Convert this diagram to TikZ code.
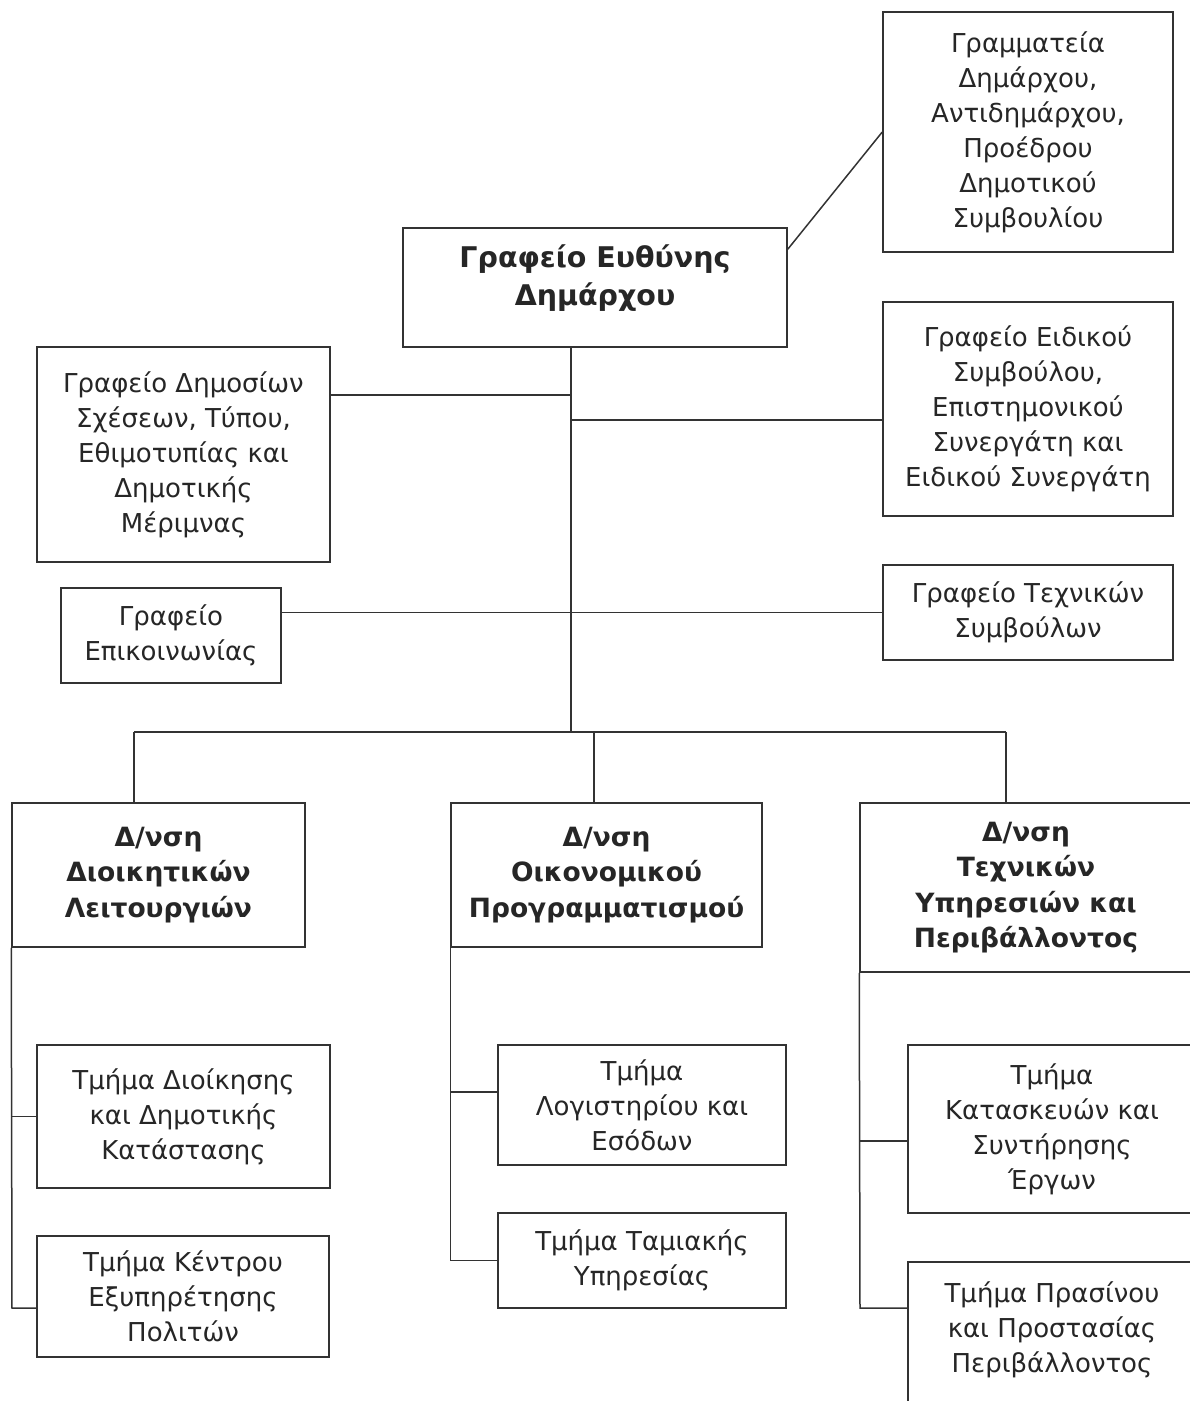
\documentclass[tikz,border=0pt]{standalone}
\usepackage{fontspec}
\setmainfont{DejaVu Sans}
\usepackage{tikz}
\tikzset{
  %% Office / section box
  obox/.style={
    rectangle, draw=black!80, fill=white,
    align=center, text=black!85,
    font=\fontsize{26}{35}\selectfont,
    inner sep=0pt, line width=1.5pt
  },
  %% Directorate box (bold)
  dbox/.style={
    obox, font=\fontsize{26.5}{35.5}\selectfont\bfseries
  },
  %% Connector
  conn/.style={draw=black!80, line width=1.5pt},
}

\begin{document}
\begin{tikzpicture}[x=1pt, y=-1pt]

  \useasboundingbox (0,0) rectangle (1190,1401);
  \clip (0,0) rectangle (1190,1401);

  %% top level
  \node[obox, minimum width=290, minimum height=240] (secr) at (1028,132)
       {Γραμματεία\\Δημάρχου,\\Αντιδημάρχου,\\Προέδρου\\Δημοτικού\\Συμβουλίου};
  \node[dbox, minimum width=384, minimum height=119,
        font=\fontsize{28.5}{38}\selectfont\bfseries] (mayor) at (595,287.5)
       {Γραφείο Ευθύνης\\Δημάρχου\\[-14pt]\mbox{}};

  %% staff offices
  \node[obox, minimum width=293, minimum height=215] (press) at (183.5,454.5)
       {Γραφείο Δημοσίων\\Σχέσεων, Τύπου,\\Εθιμοτυπίας και\\Δημοτικής\\Μέριμνας};
  \node[obox, minimum width=290, minimum height=214] (advis) at (1028,409)
       {Γραφείο Ειδικού\\Συμβούλου,\\Επιστημονικού\\Συνεργάτη και\\Ειδικού Συνεργάτη};
  \node[obox, minimum width=220, minimum height=95] (commu) at (171,635.5)
       {Γραφείο\\Επικοινωνίας};
  \node[obox, minimum width=290, minimum height=95] (techc) at (1028,612.5)
       {Γραφείο Τεχνικών\\Συμβούλων};

  %% directorates
  \node[dbox, minimum width=293, minimum height=144] (dadmin) at (158.5,875)
       {Δ/νση\\Διοικητικών\\Λειτουργιών};
  \node[dbox, minimum width=311, minimum height=144] (dfinan) at (606.5,875)
       {Δ/νση\\Οικονομικού\\Προγραμματισμού};
  \node[dbox, minimum width=332, minimum height=169] (dtechn) at (1026,887.5)
       {Δ/νση\\Τεχνικών\\Υπηρεσιών και\\Περιβάλλοντος};

  %% sections
  \node[obox, minimum width=293, minimum height=143] (tadmin) at (183.5,1116.5)
       {Τμήμα Διοίκησης\\και Δημοτικής\\Κατάστασης};
  \node[obox, minimum width=292, minimum height=121] (tcitiz) at (183,1296.5)
       {Τμήμα Κέντρου\\Εξυπηρέτησης\\Πολιτών};
  \node[obox, minimum width=288, minimum height=120] (taccnt) at (642,1105)
       {Τμήμα\\Λογιστηρίου και\\Εσόδων};
  \node[obox, minimum width=288, minimum height=95] (tcash) at (642,1260.5)
       {Τμήμα Ταμιακής\\Υπηρεσίας};
  \node[obox, minimum width=288, minimum height=168] (tworks) at (1052,1129)
       {Τμήμα\\Κατασκευών και\\Συντήρησης\\Έργων};
  \node[obox, minimum width=288, minimum height=166] (tgreen) at (1052,1345)
       {Τμήμα Πρασίνου\\και Προστασίας\\Περιβάλλοντος\\\mbox{}};

  %% connectors
  \coordinate (bus) at (571,732);
  \coordinate (j1) at (571,395);
  \coordinate (j2) at (571,420);
  \coordinate (b1) at (134,732);
  \coordinate (b2) at (594,732);
  \coordinate (b3) at (1006,732);

  \draw[conn] (secr.west) -- ([yshift=-22pt]mayor.north east);
  \draw[conn] (mayor.south -| bus) -- (bus);
  \draw[conn] (j1) -- (j1 -| press.east);
  \draw[conn] (j2) -- (j2 -| advis.west);
  \draw[conn] (techc.west) -- (techc.west -| commu.east);

  \draw[conn] (b1) -- (b3);
  \draw[conn] (b1) -- (b1 |- dadmin.north);
  \draw[conn] (b2) -- (b2 |- dfinan.north);
  \draw[conn] (b3) -- (b3 |- dtechn.north);

  \coordinate (k1) at (12,1308);
  \draw[conn] (dadmin.south west) -- (k1) -- (k1 -| tcitiz.west);
  \draw[conn] (dadmin.south west |- tadmin.west) -- (tadmin.west);

  \coordinate (k2) at (451,1092);
  \draw[conn] (dfinan.south west) |- (tcash.west);
  \draw[conn] (k2) -- (k2 -| taccnt.west);

  \coordinate (k3) at (860,1141);
  \coordinate (k4) at (860,1308);
  \draw[conn] (dtechn.south west) -- (k4) -- (k4 -| tgreen.west);
  \draw[conn] (k3) -- (k3 -| tworks.west);

\end{tikzpicture}
\end{document}
